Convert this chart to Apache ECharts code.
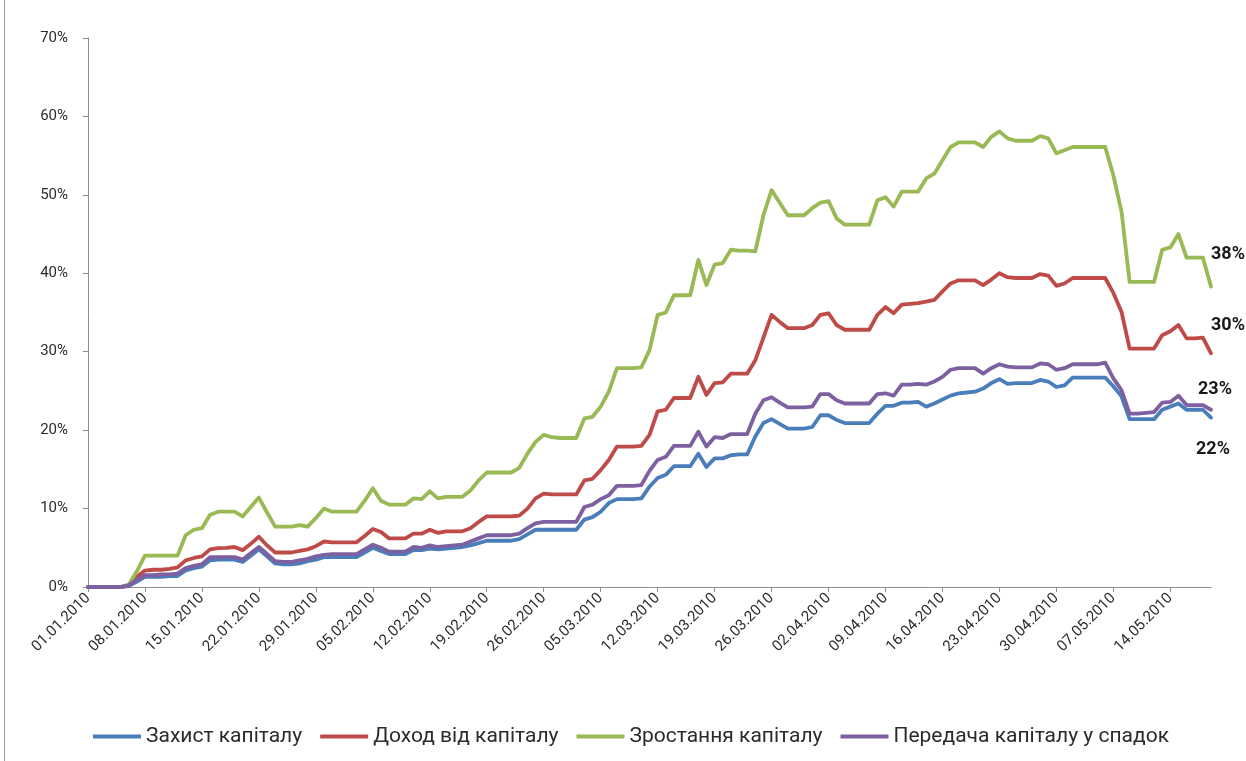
<!DOCTYPE html>
<html>
<head>
<meta charset="utf-8">
<script src="https://cdn.jsdelivr.net/npm/echarts@6/dist/echarts.min.js"></script>
<style>
  html, body { margin: 0; padding: 0; background: #ffffff; }
  #chart { width: 1246px; height: 761px; }
</style>
</head>
<body>
<div id="chart"></div>
<script>
// Daily dates 01.01.2010 – 19.05.2010 (weekends keep the previous value)
const dayCount = 139;
const dates = [];
for (let i = 0; i < dayCount; i++) {
  const d = new Date(2010, 0, 1 + i);
  const dd = String(d.getDate()).padStart(2, '0');
  const mm = String(d.getMonth() + 1).padStart(2, '0');
  dates.push(dd + '.' + mm + '.' + d.getFullYear());
}

const seriesNames = ['Захист капіталу', 'Доход від капіталу', 'Зростання капіталу', 'Передача капіталу у спадок'];

// Cumulative return, %
const capitalProtection = [
  0,0,0,0,0,0.1,0.7,1.3,1.3,1.3,1.4,1.4,2.1,2.4,2.6,3.4,3.5,3.5,3.5,3.2,
  4.0,4.8,3.9,3.0,2.9,2.9,3.0,3.3,3.5,3.8,3.8,3.8,3.8,3.8,4.4,5.0,4.6,4.2,4.2,4.2,
  4.7,4.7,4.9,4.8,4.9,5.0,5.1,5.3,5.6,5.9,5.9,5.9,5.9,6.1,6.7,7.3,7.3,7.3,7.3,7.3,
  7.3,8.6,8.9,9.6,10.7,11.2,11.2,11.2,11.3,12.8,13.9,14.3,15.4,15.4,15.4,17.0,15.3,16.4,16.4,16.8,
  16.9,16.9,19.2,20.9,21.4,20.8,20.2,20.2,20.2,20.4,21.9,21.9,21.3,20.9,20.9,20.9,20.9,22.1,23.1,23.1,
  23.5,23.5,23.6,23.0,23.4,23.9,24.4,24.7,24.8,24.9,25.3,26.0,26.5,25.9,26.0,26.0,26.0,26.4,26.2,25.5,
  25.7,26.7,26.7,26.7,26.7,26.7,25.6,24.3,21.4,21.4,21.4,21.4,22.6,23.0,23.4,22.6,22.6,22.6,21.6
];
const capitalIncome = [
  0,0,0,0,0,0.2,1.3,2.1,2.2,2.2,2.3,2.5,3.4,3.7,3.9,4.8,4.95,5.0,5.1,4.7,
  5.5,6.4,5.3,4.4,4.4,4.4,4.6,4.8,5.2,5.8,5.7,5.7,5.7,5.7,6.5,7.4,7.0,6.2,6.2,6.2,
  6.8,6.8,7.3,6.9,7.1,7.1,7.1,7.5,8.3,9.0,9.0,9.0,9.0,9.1,10.0,11.3,11.9,11.8,11.8,11.8,
  11.8,13.6,13.8,14.9,16.2,17.9,17.9,17.9,18.0,19.4,22.4,22.6,24.1,24.1,24.1,26.8,24.5,26.0,26.1,27.2,
  27.2,27.2,28.9,31.8,34.7,33.8,33.0,33.0,33.0,33.4,34.7,34.9,33.4,32.8,32.8,32.8,32.8,34.7,35.7,34.9,
  36.0,36.1,36.2,36.4,36.6,37.7,38.7,39.1,39.1,39.1,38.5,39.2,40.0,39.5,39.4,39.4,39.4,39.9,39.7,38.4,
  38.7,39.4,39.4,39.4,39.4,39.4,37.5,35.1,30.4,30.4,30.4,30.4,32.1,32.6,33.4,31.7,31.7,31.8,29.8
];
const capitalGrowth = [
  0,0,0,0,0,0.3,2.0,4.0,4.0,4.0,4.0,4.0,6.6,7.3,7.5,9.2,9.6,9.6,9.6,9.0,
  10.2,11.4,9.5,7.7,7.7,7.7,7.9,7.7,8.8,10.0,9.6,9.6,9.6,9.6,11.0,12.6,11.0,10.5,10.5,10.5,
  11.3,11.2,12.2,11.3,11.5,11.5,11.5,12.3,13.6,14.6,14.6,14.6,14.6,15.2,17.0,18.5,19.4,19.1,19.0,19.0,
  19.0,21.5,21.7,23.0,24.9,27.9,27.9,27.9,28.0,30.2,34.7,35.0,37.2,37.2,37.2,41.7,38.5,41.1,41.3,43.0,
  42.9,42.9,42.8,47.4,50.6,49.0,47.4,47.4,47.4,48.3,49.0,49.2,47.0,46.2,46.2,46.2,46.2,49.3,49.7,48.5,
  50.4,50.4,50.4,52.1,52.7,54.4,56.1,56.7,56.7,56.7,56.1,57.4,58.1,57.2,56.9,56.9,56.9,57.5,57.2,55.3,
  55.7,56.1,56.1,56.1,56.1,56.1,52.5,47.9,38.9,38.9,38.9,38.9,43.0,43.3,45.0,42.0,42.0,42.0,38.3
];
const capitalInheritance = [
  0,0,0,0,0,0.2,0.9,1.5,1.5,1.6,1.6,1.7,2.4,2.7,2.9,3.8,3.8,3.8,3.8,3.5,
  4.3,5.1,4.2,3.3,3.2,3.2,3.4,3.6,3.9,4.1,4.2,4.2,4.2,4.2,4.8,5.4,5.0,4.5,4.5,4.5,
  5.1,5.0,5.3,5.1,5.2,5.3,5.4,5.8,6.2,6.6,6.6,6.6,6.6,6.8,7.5,8.1,8.3,8.3,8.3,8.3,
  8.3,10.2,10.5,11.2,11.7,12.9,12.9,12.9,13.0,14.8,16.2,16.6,18.0,18.0,18.0,19.8,17.9,19.1,19.0,19.5,
  19.5,19.5,22.1,23.8,24.2,23.5,22.9,22.9,22.9,23.0,24.6,24.6,23.8,23.4,23.4,23.4,23.4,24.6,24.7,24.4,
  25.8,25.8,25.9,25.8,26.2,26.8,27.7,27.9,27.9,27.9,27.2,27.9,28.4,28.1,28.0,28.0,28.0,28.5,28.4,27.7,
  27.9,28.4,28.4,28.4,28.4,28.6,26.6,25.1,22.1,22.1,22.2,22.3,23.5,23.6,24.4,23.2,23.2,23.2,22.6
];

const yTicks = [0, 10, 20, 30, 40, 50, 60, 70];

const colors = ['#4A7EBB', '#BE4B48', '#98B954', '#7D60A0'];
const values = [capitalProtection, capitalIncome, capitalGrowth, capitalInheritance];
// Offsets of the end-of-line value labels
const endLabelOffsets = [[-15, 32], [0, -28], [0, -32], [-13, -20]];

const series = values.map((arr, k) => ({
  name: seriesNames[k],
  type: 'line',
  data: arr,
  symbol: 'none',
  smooth: false,
  lineStyle: { width: 3.8, color: colors[k], cap: 'round', join: 'round' },
  itemStyle: { color: colors[k] },
  endLabel: {
    show: true,
    distance: 0,
    offset: endLabelOffsets[k],
    formatter: p => Math.round(p.value) + '%',
    fontFamily: 'Roboto, "Noto Sans", sans-serif',
    fontWeight: 'bold',
    fontSize: 18,
    color: '#1a1a1a'
  },
  emphasis: { disabled: true },
  animation: false,
  z: 2 + k
}));

const chart = echarts.init(document.getElementById('chart'), null, { renderer: 'canvas' });
chart.setOption({
  backgroundColor: '#ffffff',
  animation: false,
  color: colors,
  textStyle: { fontFamily: 'Roboto, "Noto Sans", sans-serif' },
  graphic: [{
    type: 'rect',
    shape: { x: 4.5, y: -10, width: 1400, height: 900 },
    style: { fill: 'none', stroke: '#9a9a9a', lineWidth: 1 },
    silent: true
  }],
  grid: { left: 88, right: 35, top: 38, bottom: 174, containLabel: false },
  legend: {
    top: 721,
    left: 88,
    icon: 'rect',
    itemWidth: 48,
    itemHeight: 4,
    itemGap: 18,
    textStyle: { fontSize: 21, color: '#2b2b2b', fontFamily: 'Roboto, "Noto Sans", sans-serif' },
    data: seriesNames
  },
  xAxis: {
    type: 'category',
    data: dates,
    boundaryGap: false,
    axisLine: { lineStyle: { color: '#8c8c8c', width: 1 } },
    axisTick: { show: true, interval: 6, length: 5, lineStyle: { color: '#8c8c8c' } },
    axisLabel: {
      interval: 6,
      rotate: 45,
      fontSize: 15,
      color: '#2b2b2b',
      margin: 9
    },
    splitLine: { show: false }
  },
  yAxis: {
    type: 'value',
    min: yTicks[0],
    max: yTicks[yTicks.length - 1],
    interval: 10,
    axisLine: { show: true, lineStyle: { color: '#8c8c8c', width: 1 } },
    axisTick: { show: true, length: 5, lineStyle: { color: '#8c8c8c' } },
    axisLabel: { formatter: '{value}%', fontSize: 15, color: '#2b2b2b', margin: 20 },
    splitLine: { show: false }
  },
  series: series
});
</script>
</body>
</html>
